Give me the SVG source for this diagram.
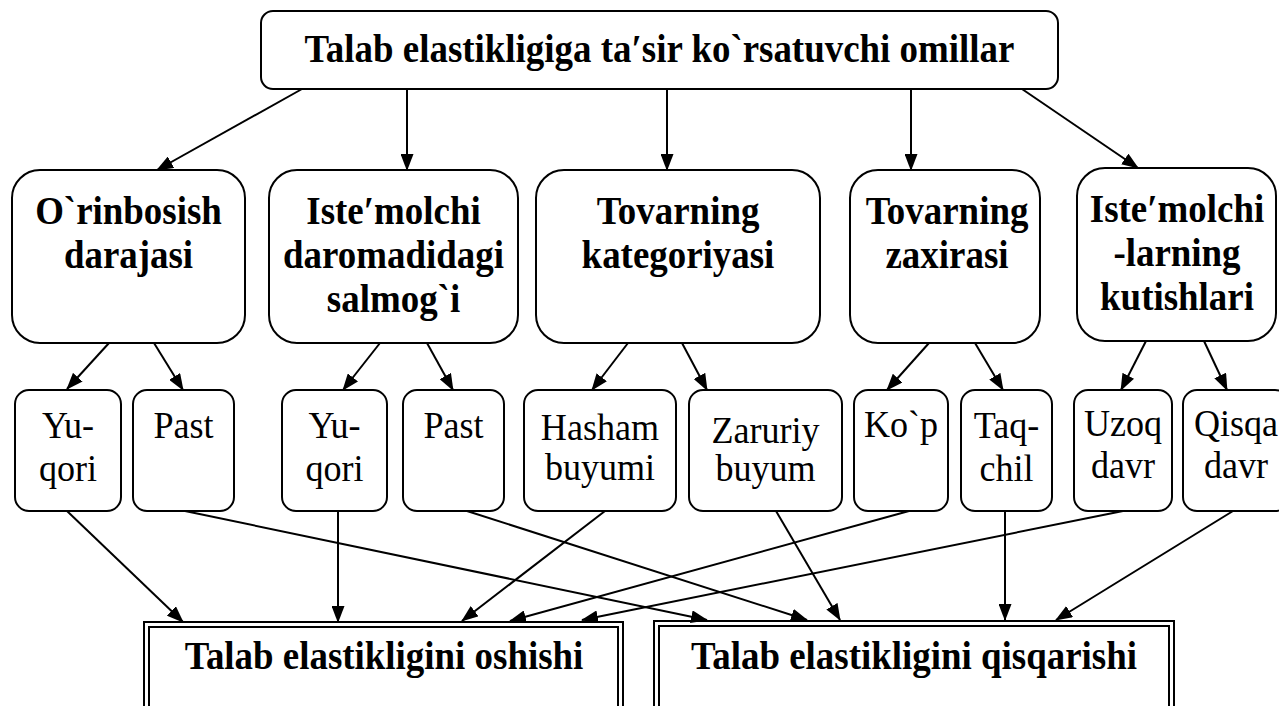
<svg xmlns="http://www.w3.org/2000/svg" width="1279" height="706" viewBox="0 0 1279 706">
<style>
.box{fill:#fff;stroke:#000;stroke-width:2}
.sbox{fill:#fff;stroke:#000;stroke-width:2}
.b{font-family:"Liberation Serif","Times New Roman",serif;font-weight:bold;font-size:39.5px;text-anchor:middle;fill:#000}
.r{font-family:"Liberation Serif","Times New Roman",serif;font-size:38px;text-anchor:middle;fill:#000}
.c line{stroke:#000;stroke-width:2;marker-end:url(#ah)}
</style>
<defs>
<marker id="ah" viewBox="0 0 17 13" refX="16" refY="6.5" markerWidth="17" markerHeight="13" markerUnits="userSpaceOnUse" orient="auto">
<path d="M0,0 L17,6.5 L0,13 Z" fill="#000"/>
</marker>
</defs>
<rect width="1279" height="706" fill="#fff"/>

<g id="top">
<rect class="box" x="261" y="11" width="797" height="78" rx="12"/>
<text class="b" transform="translate(659.5,62) scale(0.935,1)">Talab elastikligiga ta′sir ko`rsatuvchi omillar</text>
</g>

<g id="n1">
<rect class="box" x="12" y="170" width="233" height="173" rx="28"/>
<text class="b" transform="translate(128.5,224) scale(0.935,1)">O`rinbosish</text>
<text class="b" transform="translate(128.5,268) scale(0.935,1)">darajasi</text>
</g>
<g id="n2">
<rect class="box" x="269" y="170" width="249" height="173" rx="28"/>
<text class="b" transform="translate(393.5,224) scale(0.935,1)">Iste′molchi</text>
<text class="b" transform="translate(393.5,268) scale(0.935,1)">daromadidagi</text>
<text class="b" transform="translate(393.5,312) scale(0.935,1)">salmog`i</text>
</g>
<g id="n3">
<rect class="box" x="536" y="170" width="284" height="173" rx="28"/>
<text class="b" transform="translate(678,224) scale(0.935,1)">Tovarning</text>
<text class="b" transform="translate(678,268) scale(0.935,1)">kategoriyasi</text>
</g>
<g id="n4">
<rect class="box" x="850" y="170" width="190" height="173" rx="28"/>
<text class="b" transform="translate(947,224) scale(0.935,1)">Tovarning</text>
<text class="b" transform="translate(947,268) scale(0.935,1)">zaxirasi</text>
</g>
<g id="n5">
<rect class="box" x="1077" y="168" width="199" height="173" rx="28"/>
<text class="b" transform="translate(1177,222) scale(0.935,1)">Iste′molchi</text>
<text class="b" transform="translate(1177,266) scale(0.935,1)">-larning</text>
<text class="b" transform="translate(1177,310) scale(0.935,1)">kutishlari</text>
</g>

<g id="l1">
<rect class="sbox" x="15" y="390" width="106" height="121" rx="14"/>
<text class="r" transform="translate(68,438) scale(0.95,1)">Yu-</text>
<text class="r" transform="translate(68,481) scale(0.95,1)">qori</text>
</g>
<g id="l2">
<rect class="sbox" x="133" y="390" width="101" height="121" rx="14"/>
<text class="r" transform="translate(183.5,438) scale(0.95,1)">Past</text>
</g>
<g id="l3">
<rect class="sbox" x="282" y="390" width="105" height="121" rx="14"/>
<text class="r" transform="translate(334.5,438) scale(0.95,1)">Yu-</text>
<text class="r" transform="translate(334.5,481) scale(0.95,1)">qori</text>
</g>
<g id="l4">
<rect class="sbox" x="403" y="390" width="101" height="121" rx="14"/>
<text class="r" transform="translate(453.5,438) scale(0.95,1)">Past</text>
</g>
<g id="l5">
<rect class="sbox" x="524" y="390" width="152" height="121" rx="14"/>
<text class="r" transform="translate(600,440) scale(0.95,1)">Hasham</text>
<text class="r" transform="translate(600,480) scale(0.95,1)">buyumi</text>
</g>
<g id="l6">
<rect class="sbox" x="689" y="390" width="153" height="121" rx="14"/>
<text class="r" transform="translate(765.5,443) scale(0.95,1)">Zaruriy</text>
<text class="r" transform="translate(765.5,481) scale(0.95,1)">buyum</text>
</g>
<g id="l7">
<rect class="sbox" x="854" y="390" width="94" height="121" rx="14"/>
<text class="r" transform="translate(901,437) scale(0.95,1)">Ko`p</text>
</g>
<g id="l8">
<rect class="sbox" x="961" y="390" width="91" height="121" rx="14"/>
<text class="r" transform="translate(1006.5,438) scale(0.95,1)">Taq-</text>
<text class="r" transform="translate(1006.5,481) scale(0.95,1)">chil</text>
</g>
<g id="l9">
<rect class="sbox" x="1074" y="390" width="98" height="121" rx="14"/>
<text class="r" transform="translate(1123,436) scale(0.95,1)">Uzoq</text>
<text class="r" transform="translate(1123,478) scale(0.95,1)">davr</text>
</g>
<g id="l10">
<rect class="sbox" x="1183" y="390" width="106" height="121" rx="14"/>
<text class="r" transform="translate(1236,436) scale(0.95,1)">Qisqa</text>
<text class="r" transform="translate(1236,478) scale(0.95,1)">davr</text>
</g>

<g id="res1">
<rect x="144" y="622" width="479" height="100" fill="#fff" stroke="#000" stroke-width="2"/>
<rect x="149" y="627" width="469" height="100" fill="none" stroke="#000" stroke-width="2"/>
<text class="b" transform="translate(384,669) scale(0.935,1)">Talab elastikligini oshishi</text>
</g>
<g id="res2">
<rect x="654" y="621" width="520" height="100" fill="#fff" stroke="#000" stroke-width="2"/>
<rect x="659" y="626" width="510" height="100" fill="none" stroke="#000" stroke-width="2"/>
<text class="b" transform="translate(914,669) scale(0.935,1)">Talab elastikligini qisqarishi</text>
</g>

<g id="connectors" class="c">
<line x1="302" y1="89" x2="157" y2="170"/>
<line x1="407" y1="89" x2="407" y2="170"/>
<line x1="667" y1="89" x2="667" y2="170"/>
<line x1="911" y1="89" x2="911" y2="170"/>
<line x1="1022" y1="89" x2="1138" y2="168"/>

<line x1="109" y1="343" x2="67" y2="389"/>
<line x1="154" y1="343" x2="183" y2="390"/>
<line x1="380" y1="343" x2="343" y2="390"/>
<line x1="427" y1="343" x2="453" y2="390"/>
<line x1="628" y1="343" x2="592" y2="390"/>
<line x1="682" y1="343" x2="707" y2="390"/>
<line x1="929" y1="343" x2="887" y2="390"/>
<line x1="975" y1="343" x2="1003" y2="390"/>
<line x1="1146" y1="341" x2="1121" y2="390"/>
<line x1="1204" y1="341" x2="1227" y2="390"/>

<line x1="67" y1="511" x2="183" y2="622"/>
<line x1="185" y1="511" x2="707" y2="620"/>
<line x1="338" y1="511" x2="338" y2="622"/>
<line x1="467" y1="511" x2="807" y2="620"/>
<line x1="605" y1="511" x2="462" y2="621"/>
<line x1="776" y1="511" x2="840" y2="620"/>
<line x1="909" y1="511" x2="510" y2="621"/>
<line x1="1005" y1="511" x2="1005" y2="620"/>
<line x1="1123" y1="511" x2="582" y2="620"/>
<line x1="1233" y1="511" x2="1056" y2="620"/>
</g>
</svg>
